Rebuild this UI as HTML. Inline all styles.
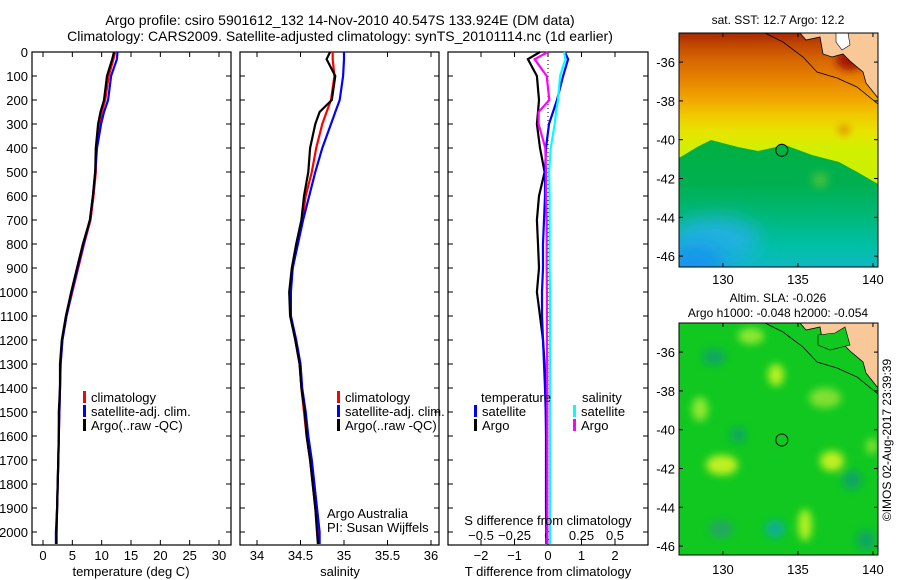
<!DOCTYPE html>
<html><head><meta charset="utf-8"><style>
body{margin:0;background:#fff;}
svg{display:block;font-family:"Liberation Sans",sans-serif;}
</style></head><body>
<svg id="fig" width="900" height="580" viewBox="0 0 900 580" xmlns="http://www.w3.org/2000/svg">
<defs>
<linearGradient id="sstTop" x1="0" y1="0" x2="0" y2="1">
<stop offset="0" stop-color="#a82800"/><stop offset="0.05" stop-color="#c04800"/><stop offset="0.12" stop-color="#d86800"/><stop offset="0.2" stop-color="#e88400"/><stop offset="0.28" stop-color="#f0a400"/><stop offset="0.35" stop-color="#f0c800"/><stop offset="0.42" stop-color="#e8e400"/><stop offset="0.5" stop-color="#d0f000"/><stop offset="1" stop-color="#c0f000"/>
</linearGradient>
<linearGradient id="sstLow" x1="0" y1="0" x2="0" y2="1">
<stop offset="0" stop-color="#00b040"/><stop offset="0.35" stop-color="#00b050"/><stop offset="0.6" stop-color="#00b878"/><stop offset="0.85" stop-color="#00c0a8"/><stop offset="1" stop-color="#10b8c0"/>
</linearGradient>
<radialGradient id="blueBL" cx="0.2" cy="1" r="0.8">
<stop offset="0" stop-color="#1088f0"/><stop offset="0.5" stop-color="#10a8e8" stop-opacity="0.85"/><stop offset="1" stop-color="#10b0e0" stop-opacity="0"/>
</radialGradient>
<filter id="blur" x="-50%" y="-50%" width="200%" height="200%"><feGaussianBlur stdDeviation="4"/></filter>
<filter id="blur2" x="-50%" y="-50%" width="200%" height="200%"><feGaussianBlur stdDeviation="10"/></filter>
<clipPath id="clipTop"><rect x="679" y="33" width="199" height="234"/></clipPath>
<clipPath id="clipBot"><rect x="679" y="323" width="199" height="232"/></clipPath>
</defs>

<text x="340" y="25" font-size="14" text-anchor="middle">Argo profile: csiro 5901612_132 14-Nov-2010 40.547S 133.924E (DM data)</text>
<text x="340" y="41" font-size="14" text-anchor="middle">Climatology: CARS2009. Satellite-adjusted climatology: synTS_20101114.nc (1d earlier)</text>

<g id="p1"></g>
<g id="p2"></g>
<g id="p3"></g>

<g>
<text x="778" y="24" font-size="12" text-anchor="middle">sat. SST: 12.7 Argo: 12.2</text>
<g clip-path="url(#clipTop)">
<rect x="679" y="33" width="199" height="234" fill="url(#sstTop)"/>
<ellipse cx="844" cy="130" rx="6" ry="5" fill="#e09000" filter="url(#blur)"/>
<polygon points="679,158 697,147 711,140 738,147 758,151 785,145 812,155 839,162 859,173 878,184 878,267 679,267" fill="url(#sstLow)"/>
<ellipse cx="820" cy="180" rx="8" ry="8" fill="#40c040" filter="url(#blur)"/>
<ellipse cx="720" cy="267" rx="90" ry="60" fill="url(#blueBL)"/>
<ellipse cx="715" cy="240" rx="45" ry="22" fill="#20b0e0" filter="url(#blur2)"/>
<ellipse cx="695" cy="262" rx="30" ry="15" fill="#1890f0" filter="url(#blur2)"/>
<ellipse cx="850" cy="60" rx="14" ry="10" fill="#a01800" filter="url(#blur)"/>
<polygon points="800,33 806,40 820,37 823,54 832,57 843,54 850,61 863,72 866,83 878,98 878,33" fill="#f8c898" stroke="#000" stroke-width="0.8"/>
<polygon points="836,33 848,33 850,45 842,50 836,42" fill="#fff" stroke="#000" stroke-width="0.6"/>
<polyline points="765,33 783,42 803,57 817,72 837,78 857,87 878,104" fill="none" stroke="#000" stroke-width="0.8"/>
</g>
<circle cx="781.8" cy="150.3" r="6" fill="#00b040" stroke="#000" stroke-width="1"/>
<rect x="679" y="33" width="199" height="234" fill="none" stroke="#000" stroke-width="1"/>
<g id="mapTopAxes"></g>
</g>

<g>
<text x="778" y="302" font-size="12" text-anchor="middle">Altim. SLA: -0.026</text>
<text x="778" y="317" font-size="12" text-anchor="middle">Argo h1000: -0.048 h2000: -0.054</text>
<g clip-path="url(#clipBot)">
<rect x="679" y="323" width="199" height="232" fill="#10c820"/>
<g filter="url(#blur)">
<ellipse cx="751" cy="336" rx="13" ry="8" fill="#90e830"/>
<ellipse cx="776" cy="375" rx="8" ry="11" fill="#b8f020"/>
<ellipse cx="700" cy="409" rx="8" ry="12" fill="#90e830"/>
<ellipse cx="722" cy="465" rx="16" ry="10" fill="#c0f020"/>
<ellipse cx="832" cy="461" rx="12" ry="10" fill="#c0f020"/>
<ellipse cx="825" cy="398" rx="16" ry="10" fill="#80e030"/>
<ellipse cx="805" cy="525" rx="7" ry="16" fill="#b0f020"/>
<ellipse cx="872" cy="446" rx="6" ry="8" fill="#80e030"/>
<ellipse cx="714" cy="357" rx="12" ry="8" fill="#10a860"/>
<ellipse cx="738" cy="435" rx="8" ry="8" fill="#10a860"/>
<ellipse cx="775" cy="529" rx="10" ry="9" fill="#10b090"/>
<ellipse cx="852" cy="480" rx="10" ry="10" fill="#10a860"/>
<ellipse cx="721" cy="529" rx="12" ry="9" fill="#20a860"/>
<ellipse cx="866" cy="540" rx="10" ry="10" fill="#10a860"/>
</g>
<polygon points="800,323 806,330 820,327 823,344 832,347 843,344 850,351 863,362 866,373 878,388 878,323" fill="#f8c898" stroke="#000" stroke-width="0.8"/>
<polygon points="818,335 835,333 845,327 850,345 830,350 818,345" fill="#10c820" stroke="#000" stroke-width="0.6"/>
<polyline points="765,323 783,332 803,347 817,362 837,368 857,377 878,394" fill="none" stroke="#000" stroke-width="0.8"/>
</g>
<circle cx="781.8" cy="440" r="6" fill="none" stroke="#000" stroke-width="1"/>
<rect x="679" y="323" width="199" height="232" fill="none" stroke="#000" stroke-width="1"/>
<g id="mapBotAxes"></g>
</g>
<text x="0" y="0" font-size="12" text-anchor="middle" transform="translate(891,440) rotate(-90)">©IMOS 02-Aug-2017 23:39:39</text>
</svg>
<script>
const depths   = [0, 30, 100, 200, 250, 300, 400, 500, 600, 700, 800, 900, 1000, 1100, 1200, 1300, 1400, 1500, 1600, 1700, 1800, 1900, 2000, 2050];
const tempArgo = [12.1, 11.8, 10.9, 10.4, 9.8, 9.4, 9.0, 8.9, 8.5, 8.0, 6.8, 5.8, 4.8, 3.9, 3.2, 2.9, 2.9, 2.7, 2.7, 2.6, 2.5, 2.4, 2.3, 2.3];
const tempClim = [12.3, 12.0, 11.2, 10.6, 10.0, 9.6, 9.1, 9.0, 8.6, 8.1, 7.0, 6.0, 5.0, 4.0, 3.3, 3.0, 2.9, 2.8, 2.7, 2.6, 2.5, 2.4, 2.3, 2.3];
const tempSat  = [12.7, 12.6, 11.6, 11.1, 10.4, 9.9, 9.2, 8.9, 8.5, 8.0, 6.9, 5.9, 4.9, 4.0, 3.3, 3.0, 2.9, 2.8, 2.7, 2.6, 2.5, 2.4, 2.2, 2.2];
const salArgo  = [34.84, 34.80, 34.90, 34.86, 34.72, 34.67, 34.61, 34.59, 34.54, 34.51, 34.45, 34.40, 34.37, 34.38, 34.44, 34.49, 34.51, 34.55, 34.57, 34.61, 34.64, 34.67, 34.69, 34.70];
const salClim  = [34.87, 34.87, 34.89, 34.85, 34.80, 34.75, 34.68, 34.63, 34.56, 34.52, 34.46, 34.41, 34.38, 34.39, 34.44, 34.49, 34.51, 34.54, 34.57, 34.61, 34.64, 34.67, 34.70, 34.71];
const salSat   = [35.00, 35.00, 34.99, 34.95, 34.90, 34.85, 34.75, 34.67, 34.60, 34.53, 34.47, 34.41, 34.39, 34.39, 34.45, 34.50, 34.52, 34.56, 34.59, 34.63, 34.66, 34.69, 34.72, 34.72];
const tDiffArgo = [-0.24, -0.6, -0.33, -0.27, -0.3, -0.33, -0.24, -0.1, -0.27, -0.33, -0.3, -0.27, -0.33, -0.24, -0.15, -0.1, -0.08, -0.06, -0.05, -0.04, -0.03, -0.05, -0.04, -0.04];
const tDiffSat  = [0.5, 0.6, 0.45, 0.27, 0.15, 0.03, -0.06, -0.09, -0.09, -0.12, -0.15, -0.15, -0.18, -0.18, -0.15, -0.12, -0.09, -0.07, -0.06, -0.06, -0.06, -0.06, -0.05, -0.05];
const sDiffArgo = [0.0, -0.1, -0.01, 0.01, -0.07, -0.07, -0.02, -0.015, -0.015, -0.01, -0.01, -0.01, -0.008, -0.008, -0.008, -0.006, -0.006, -0.005, -0.005, -0.005, -0.005, -0.005, -0.005, -0.005];
const sDiffSat  = [0.12, 0.13, 0.09, 0.075, 0.06, 0.05, 0.02, 0.008, 0.012, 0.012, 0.012, 0.012, 0.015, 0.015, 0.015, 0.015, 0.015, 0.015, 0.015, 0.015, 0.015, 0.015, 0.015, 0.015];
const depthTicks = [0,100,200,300,400,500,600,700,800,900,1000,1100,1200,1300,1400,1500,1600,1700,1800,1900,2000];
const tempTicks = [0,5,10,15,20,25,30];
const salTicks = [34,34.5,35,35.5,36];
const tdTicks = [-2,-1,0,1,2];
const sdTicks = [-0.5,-0.25,0,0.25,0.5];
const lonTicks = [130,135,140];
const latTicks = [-36,-38,-40,-42,-44,-46];

const NS = "http://www.w3.org/2000/svg";
function mk(tag, attrs, parent){const e=document.createElementNS(NS,tag);for(const k in attrs)e.setAttribute(k,attrs[k]);parent.appendChild(e);return e;}
const yD = d => 52 + d*0.24;
const xT = t => 43 + t*5.867;
const xS = s => 257 + (s-34)*87;
const xTD = v => 548 + v*33.5;
const xSD = v => 548 + v*134;
const P = {top:52, bot:545};

function frame(g, x0, x1, labelsLeft){
  const r = mk('rect',{x:x0,y:P.top,width:x1-x0,height:P.bot-P.top,fill:'none',stroke:'#000','stroke-width':1.2},g);
  
  
  depthTicks.forEach(d=>{
    mk('line',{x1:x0,x2:x0+5,y1:yD(d),y2:yD(d),stroke:'#000'},g);
    mk('line',{x1:x1-5,x2:x1,y1:yD(d),y2:yD(d),stroke:'#000'},g);
    if(labelsLeft){
      const t=mk('text',{x:x0-4,y:yD(d)+5,'font-size':13,'text-anchor':'end'},g);
      t.textContent=d;
      
      
    }
  });
}
function xticks(g, ticks, fx, y){
  ticks.forEach(v=>{
    mk('line',{x1:fx(v),x2:fx(v),y1:P.bot,y2:P.bot-5,stroke:'#000'},g);
    mk('line',{x1:fx(v),x2:fx(v),y1:P.top,y2:P.top+5,stroke:'#000'},g);
    const t=mk('text',{x:fx(v),y:y,'font-size':13,'text-anchor':'middle'},g);
    t.textContent=v;
    
    
  });
}
function line(g, vals, fx, color, name){
  const pts = vals.map((v,i)=>fx(v).toFixed(1)+','+yD(depths[i]).toFixed(1)).join(' ');
  const p=mk('polyline',{points:pts,fill:'none',stroke:color,'stroke-width':2.2},g);
  
  
}
function text(g,x,y,s,name,anchor){
  const t=mk('text',{x:x,y:y,'font-size':13,'text-anchor':anchor||'start'},g);
  t.textContent=s;
  
  
  return t;
}
function legend(g,x,y,color,label,name){
  const r=mk('rect',{x:x,y:y-6,width:3,height:12,fill:color},g);
  
  
  text(g,x+8,y+5,label,name+'-label');
}

const g1=document.getElementById('p1');
frame(g1,32,231,true);
xticks(g1,tempTicks,xT,560);
line(g1,tempClim,xT,'#f00','temp-climatology-line');
line(g1,tempSat,xT,'#00f','temp-satellite-line');
line(g1,tempArgo,xT,'#000','temp-argo-line');
text(g1,131,576,'temperature (deg C)','temp-x-axis-title','middle');
legend(g1,83,397,'#f00','climatology','legend-climatology');
legend(g1,83,411,'#00f','satellite-adj. clim.','legend-satellite');
legend(g1,83,425,'#000','Argo(..raw -QC)','legend-argo');

const g2=document.getElementById('p2');
frame(g2,240,439,false);
xticks(g2,salTicks,xS,560);
line(g2,salClim,xS,'#f00','sal-climatology-line');
line(g2,salSat,xS,'#00f','sal-satellite-line');
line(g2,salArgo,xS,'#000','sal-argo-line');
text(g2,340,576,'salinity','sal-x-axis-title','middle');
legend(g2,337,397,'#f00','climatology','legend2-climatology');
legend(g2,337,411,'#00f','satellite-adj. clim.','legend2-satellite');
legend(g2,337,425,'#000','Argo(..raw -QC)','legend2-argo');
text(g2,327,518,'Argo Australia','credit-line-1');
text(g2,327,532,'PI: Susan Wijffels','credit-line-2');

const g3=document.getElementById('p3');
frame(g3,448,648,false);
tdTicks.forEach(v=>{
  mk('line',{x1:xTD(v),x2:xTD(v),y1:P.bot,y2:P.bot-5,stroke:'#000'},g3);
  mk('line',{x1:xTD(v),x2:xTD(v),y1:P.top,y2:P.top+5,stroke:'#000'},g3);
  text(g3,xTD(v),560,String(v).replace('-','\u2212'),'t-diff-tick-label','middle');
});
sdTicks.forEach(v=>{
  text(g3,xSD(v),540,String(v).replace('-','\u2212'),'s-diff-tick-label','middle');
});
const z=mk('line',{x1:548,x2:548,y1:P.top,y2:P.bot,stroke:'#000','stroke-dasharray':'1,3'},g3);


line(g3,tDiffArgo,xTD,'#000','t-diff-argo-line');
line(g3,tDiffSat,xTD,'#00f','t-diff-satellite-line');
line(g3,sDiffArgo,xSD,'#f0f','s-diff-argo-line');
line(g3,sDiffSat,xSD,'#0ff','s-diff-satellite-line');
text(g3,548,525,'S difference from climatology','s-diff-axis-title','middle');
text(g3,548,576,'T difference from climatology','t-diff-axis-title','middle');
text(g3,481,402,'temperature','legend3-temperature-header');
text(g3,582,402,'salinity','legend3-salinity-header');
legend(g3,474,411,'#00f','satellite','legend3-t-satellite');
legend(g3,474,425,'#000','Argo','legend3-t-argo');
legend(g3,573,411,'#0ff','satellite','legend3-s-satellite');
legend(g3,573,425,'#f0f','Argo','legend3-s-argo');

function mapAxes(id, top, bot, labY){
  const g=document.getElementById(id);
  const xL = lon => 679 + (lon-127.07)*15;
  const yL = lat => top + (-34.5-lat)*19.4;
  lonTicks.forEach(v=>{
    mk('line',{x1:xL(v),x2:xL(v),y1:bot,y2:bot-4,stroke:'#000'},g);
    mk('line',{x1:xL(v),x2:xL(v),y1:top,y2:top+4,stroke:'#000'},g);
    text(g,xL(v),labY,String(v),'lon-tick-label','middle');
  });
  latTicks.forEach(v=>{
    mk('line',{x1:679,x2:683,y1:yL(v),y2:yL(v),stroke:'#000'},g);
    mk('line',{x1:874,x2:878,y1:yL(v),y2:yL(v),stroke:'#000'},g);
    text(g,675,yL(v)+5,String(v),'lat-tick-label','end');
  });
}
mapAxes('mapTopAxes',33,267,284);
mapAxes('mapBotAxes',323,555,574);
</script>
</body></html>
